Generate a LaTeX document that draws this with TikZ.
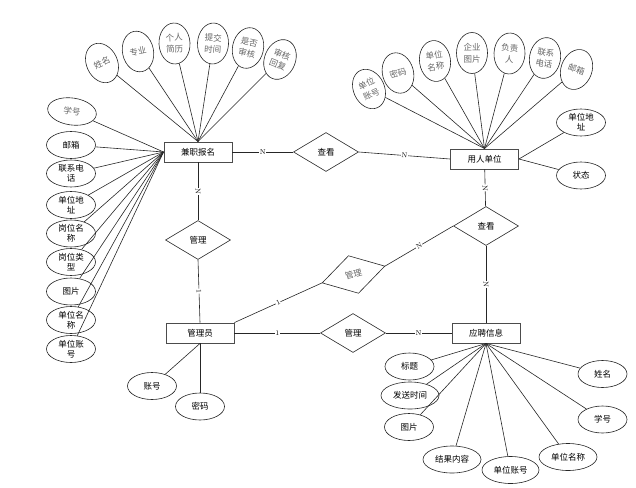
\documentclass[tikz,border=0pt]{standalone}
\usepackage{fontspec}
\usepackage{tikz}
\usetikzlibrary{shapes.geometric}
\newfontfamily\cjk{Noto Sans CJK SC}
\newcommand\zhsize{\cjk\fontsize{8.5}{10}\selectfont}

\begin{document}
\begin{tikzpicture}[x=1pt, y=-1pt, line width=0.6pt, draw=black!85,
		ent/.style={draw=black!70, line width=0.9pt, minimum width=68pt, minimum height=20pt, font=\zhsize},
		rel/.style={diamond, draw, minimum width=65pt, minimum height=39pt, inner sep=0pt, font=\zhsize},
		attr/.style={ellipse, draw, minimum width=49pt, minimum height=27pt, inner sep=0pt, align=center, font=\zhsize},
		tallattr/.style={attr, minimum width=31pt, minimum height=41pt, text=black!60, font=\cjk\fontsize{8.5}{11.5}\selectfont},
		card/.style={fill=white, inner sep=0.5pt, sloped, font=\fontsize{7}{8}\selectfont}]
	\useasboundingbox (0,0) rectangle (636,487);
	\node[ent] (jz) at (198,152) {兼职报名};
	\node[ent] (yr) at (484.5,159) {用人单位};
	\node[ent] (gly) at (200,333) {管理员};
	\node[ent] (yp) at (486,333) {应聘信息};
	\node[rel] (ck1) at (326,152) {查看};
	\node[rel] (gl1) at (198,240) {管理};
	\node[rel] (ck2) at (486,226) {查看};
	\node[rel, rotate=15, text=black!60] (gl2) at (353.5,274.5) {管理};
	\node[rel] (gl3) at (353,333) {管理};
	\draw (jz)--node[card]{N}(ck1);
	\draw (ck1.east)--node[card]{N}(yr.west);
	\draw (jz)--node[card]{N}(gl1);
	\draw (gl1.south)--node[card]{1}(gly.north);
	\draw (gly.north east)--node[card]{1}(gl2.west);
	\draw (gl2.east)--node[card]{N}(ck2.west);
	\draw (yr)--node[card]{N}(ck2);
	\draw (ck2)--node[card]{N}(yp);
	\draw (gly)--node[card]{1}(gl3);
	\draw (gl3)--node[card]{N}(yp);
	\foreach \t/\x/\y/\r [count=\i] in {姓名/102/63/25, 专业/138/51.5/12, 个人\\简历/174.5/43.5/3, 提交\\时间/213/43.5/-3, 是否\\审核/248/48/-12, 审核\\回复/280/59.5/-22}
		{\node[tallattr, rotate=\r] (t\i) at (\x,\y) {\t};
		\draw (jz.north)--(t\i);}
	\node[attr, rotate=-8, text=black!60] (l0) at (72,111.5) {学号};
	\draw (jz.west)--(l0);
	\foreach \t/\y [count=\i] in {邮箱/145, 联系电\\话/173.5, 单位地\\址/205, 岗位名\\称/233.5, 岗位类\\型/262, 图片/291.5, 单位名\\称/320, 单位账\\号/349}
		{\node[attr] (l\i) at (71,\y) {\t};
		\draw (jz.west)--(l\i);}
	\foreach \t/\x/\y/\r [count=\i] in {单位\\账号/369/89/25, 密码/398/73/15, 单位\\名称/435/61/8, 企业\\图片/472/53/0, 负责\\人/509.5/53.5/-3, 联系\\电话/545/58/-10, 邮箱/576.5/69.5/-20}
		{\node[tallattr, rotate=\r] (u\i) at (\x,\y) {\t};
		\draw (yr.north)--(u\i);}
	\node[attr] (dz) at (581,122.5) {单位地\\址};
	\node[attr] (zt) at (581,175.5) {状态};
	\draw (yr.east)--(dz);
	\draw (yr.east)--(zt);
	\node[attr] (zh) at (152,386) {账号};
	\node[attr] (mm) at (200,406.5) {密码};
	\draw (gly.south)--(zh);
	\draw (gly.south)--(mm);
	\foreach \t/\x/\y/\w [count=\i] in {标题/409.5/366.5/49, 发送时间/410/395.5/58, 图片/409/427/49, 结果内容/452/459.5/58, 单位账号/510.5/470/57, 单位名称/568/457/58, 学号/602.5/419.5/49, 姓名/602.5/374/49}
		{\node[attr, minimum width=\w pt] (y\i) at (\x,\y) {\t};
		\draw (yp.south)--(y\i);}
\end{tikzpicture}
\end{document}
